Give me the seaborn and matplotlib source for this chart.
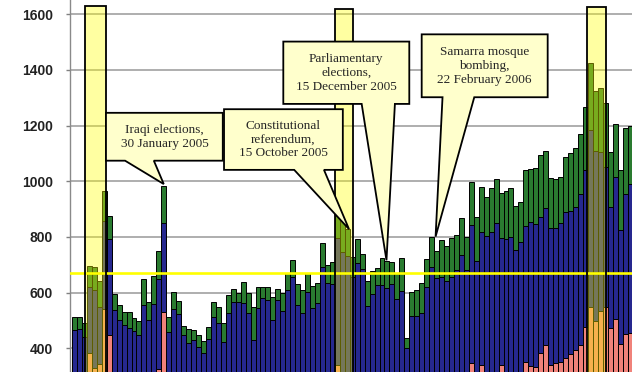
import matplotlib
matplotlib.use("Agg")
import matplotlib.pyplot as plt
from matplotlib.patches import Rectangle, Polygon
import pandas as pd
import seaborn as sns

# weekly counts per series (bottom -> top of each stack)
salmon = [240, 250, 230, 382, 330, 342, 540, 448, 270, 250,
          230, 240, 220, 230, 260, 240, 280, 325, 530, 250,
          240, 230, 220, 200, 210, 200, 190, 210, 230, 220,
          200, 230, 240, 230, 250, 230, 210, 240, 250, 240,
          230, 250, 240, 260, 280, 250, 240, 260, 250, 260,
          290, 270, 280, 340, 300, 290, 270, 290, 280, 250,
          260, 270, 280, 270, 280, 260, 280, 200, 250, 260,
          260, 280, 300, 290, 300, 290, 300, 305, 300, 300,
          346, 300, 340, 305, 305, 310, 340, 305, 300, 295,
          300, 352, 337, 334, 384, 410, 340, 346, 350, 366,
          378, 394, 412, 478, 549, 499, 535, 547, 472, 505,
          415, 451, 456]
blue = [225, 221, 212, 239, 279, 207, 318, 343, 267, 250,
        252, 232, 242, 218, 295, 260, 280, 323, 320, 210,
        300, 292, 228, 218, 220, 206, 192, 222, 283, 270,
        223, 295, 327, 337, 311, 295, 220, 303, 329, 333,
        271, 323, 294, 349, 377, 305, 285, 343, 293, 301,
        403, 363, 351, 455, 447, 441, 385, 415, 404, 303,
        335, 357, 347, 345, 350, 316, 327, 200, 266, 256,
        268, 341, 393, 361, 357, 353, 357, 376, 435, 381,
        497, 413, 479, 498, 514, 539, 455, 486, 501, 458,
        483, 487, 518, 512, 489, 493, 491, 485, 501, 525,
        515, 515, 542, 562, 635, 611, 571, 503, 434, 511,
        410, 503, 536]
green = [46, 40, 47, 76, 82, 94, 108, 85, 58, 55,
         48, 58, 45, 50, 93, 65, 100, 100, 133, 51,
         63, 49, 32, 53, 35, 41, 43, 43, 53, 58,
         67, 65, 46, 30, 78, 72, 119, 78, 42, 46,
         84, 39, 66, 62, 60, 76, 84, 67, 81, 72,
         86, 66, 78, 82, 115, 96, 74, 86, 54, 87,
         83, 61, 99, 97, 80, 93, 119, 36, 87, 92,
         106, 99, 106, 99, 131, 125, 140, 125, 132, 119,
         154, 160, 159, 139, 156, 159, 162, 175, 174, 158,
         144, 202, 188, 200, 221, 207, 182, 176, 165, 197,
         207, 209, 216, 226, 241, 214, 229, 230, 199, 190,
         215, 236, 205]
y_ticks = [400, 600, 800, 1000, 1200, 1400, 1600]
average_line = 670

# highlighted periods: (start week, end week, top)
periods = [(2.1, 6.45, 1630), (52.5, 56.2, 1618), (103.35, 107.1, 1627)]

# callouts: text, box (x0, x1, y0, y1), pointer base (xa, xb), pointer tip
callouts = [
    ("Iraqi elections,\n30 January 2005", (6.35, 29.9, 1074, 1246), (10.2, 16.0), (18.0, 990)),
    ("Constitutional\nreferendum,\n15 October 2005", (30.15, 54.1, 1041, 1259), (44.3, 50.3), (55.35, 828)),
    ("Parliamentary\nelections,\n15 December 2005", (42.1, 67.5, 1278, 1502), (57.9, 64.6), (62.9, 716)),
    ("Samarra mosque\nbombing,\n22 February 2006", (70.0, 95.4, 1302, 1528), (74.2, 80.6), (72.8, 801)),
]

SALMON = '#f0827a'
BLUE = '#26288f'
GREEN = '#2a7b30'

sns.set_theme(style="white")
plt.rcParams['font.family'] = ['Liberation Sans', 'DejaVu Sans']

df = pd.DataFrame({'week': list(range(len(salmon))), 'salmon': salmon, 'blue': blue, 'green': green})
df['lower'] = df['salmon'] + df['blue']
df['total'] = df['lower'] + df['green']

fig = plt.figure(figsize=(6.32, 3.72), dpi=100)
ax = fig.add_axes([70 / 632, 0, 562 / 632, 1])

for col, c in [('total', GREEN), ('lower', BLUE), ('salmon', SALMON)]:
    sns.barplot(data=df, x='week', y=col, color=c, saturation=1, width=1.0,
                edgecolor='black', linewidth=0.7, errorbar=None, ax=ax)

ax.set_xlim(-0.903, 112.40)
ax.set_ylim(314.7, 1651.4)
ax.set_xticks([])
ax.set_xlabel('')
ax.set_ylabel('')
ax.set_yticks(y_ticks)
ax.set_yticklabels([str(t) for t in y_ticks], fontweight='bold')
ax.tick_params(axis='y', left=True, length=2.6, width=1.0, color='#808080',
               pad=9.5, labelsize=10, labelcolor='#222222')

for s in ['top', 'right', 'bottom']:
    ax.spines[s].set_visible(False)
ax.spines['left'].set_color('#8a8a8a')
ax.spines['left'].set_linewidth(1.0)

ax.yaxis.grid(True, color='#a8a8a8', linewidth=1.3)
ax.set_axisbelow(True)

ax.axhline(average_line, color='#ffff00', linewidth=1.9, zorder=3)

for x0, x1, top in periods:
    ax.add_patch(Rectangle((x0, 0), x1 - x0, top, facecolor=(1, 1, 0, 0.37),
                           edgecolor='black', linewidth=1.3, zorder=4))

for txt, (bx0, bx1, by0, by1), (pa, pb), (tx, ty) in callouts:
    verts = [(bx0, by1), (bx1, by1), (bx1, by0), (pb, by0), (tx, ty), (pa, by0), (bx0, by0)]
    ax.add_patch(Polygon(verts, closed=True, facecolor='#ffffcc', edgecolor='black',
                         linewidth=1.3, joinstyle='miter', zorder=5))
    ax.text((bx0 + bx1) / 2, (by0 + by1) / 2, txt, ha='center', va='center',
            family=['Liberation Serif', 'DejaVu Serif'], fontsize=9.5,
            color='#262626', linespacing=1.2, zorder=6)

fig.savefig('out.png', dpi=100)
